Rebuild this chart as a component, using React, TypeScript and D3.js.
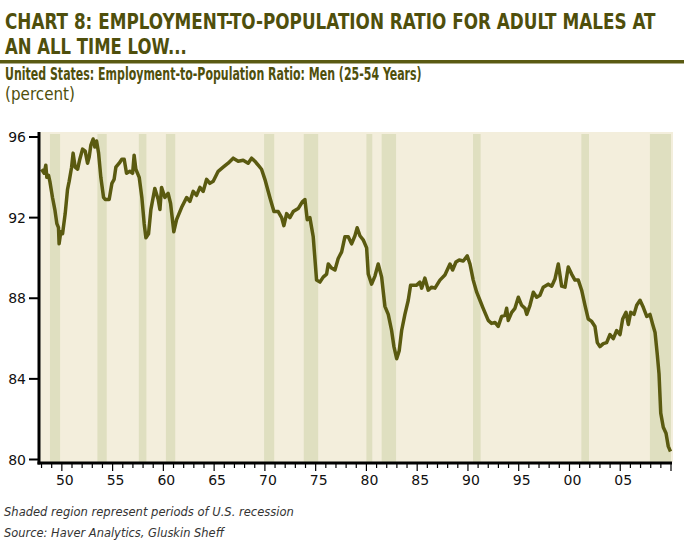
import { useEffect, useRef } from 'react';
import * as d3 from 'd3';

// Employment-to-population ratio, men 25-54 (year, percent)
const ratioSeries: [number, number][] = [
  [1948.0, 94.4], [1948.26, 94.2], [1948.42, 94.6], [1948.52, 94.0], [1948.69, 94.1], [1948.82, 93.8],
  [1949.08, 93.0], [1949.31, 92.4], [1949.51, 91.7], [1949.67, 91.5], [1949.73, 90.7], [1949.9, 91.3],
  [1950.07, 91.2], [1950.33, 92.2], [1950.56, 93.4], [1950.72, 93.8], [1950.96, 94.5], [1951.11, 95.2],
  [1951.31, 94.5], [1951.55, 94.4], [1951.77, 94.9], [1952.04, 95.4], [1952.3, 95.3], [1952.53, 94.7],
  [1952.69, 95.0], [1952.86, 95.6], [1953.08, 95.9], [1953.25, 95.5], [1953.42, 95.8], [1953.62, 95.2],
  [1953.84, 94.0], [1954.11, 93.0], [1954.27, 92.9], [1954.66, 92.9], [1954.93, 93.7], [1955.15, 93.9],
  [1955.32, 94.5], [1955.65, 94.7], [1955.91, 94.9], [1956.14, 94.9], [1956.37, 94.2], [1956.7, 94.3],
  [1956.97, 94.2], [1957.12, 95.1], [1957.29, 94.4], [1957.62, 94.0], [1957.88, 93.0], [1958.11, 91.7],
  [1958.28, 91.0], [1958.54, 91.2], [1958.77, 92.4], [1959.16, 93.45], [1959.49, 92.9], [1959.66, 92.4],
  [1959.82, 93.5], [1960.15, 93.0], [1960.47, 93.2], [1960.71, 92.7], [1961.03, 91.3], [1961.3, 91.9],
  [1961.79, 92.5], [1962.29, 93.0], [1962.61, 92.8], [1962.94, 93.3], [1963.27, 93.1], [1963.6, 93.5],
  [1963.92, 93.3], [1964.26, 93.9], [1964.58, 93.7], [1964.91, 93.8], [1965.4, 94.3], [1965.89, 94.5],
  [1966.38, 94.7], [1966.88, 94.95], [1967.37, 94.8], [1967.86, 94.85], [1968.35, 94.7], [1968.69, 94.95],
  [1969.01, 94.8], [1969.34, 94.6], [1969.67, 94.4], [1970.0, 93.9], [1970.49, 93.0], [1970.89, 92.3],
  [1971.31, 92.3], [1971.65, 92.0], [1971.87, 91.6], [1972.14, 92.2], [1972.46, 92.0], [1972.79, 92.3],
  [1973.28, 92.45], [1973.71, 92.8], [1973.94, 92.9], [1974.17, 91.9], [1974.43, 92.0], [1974.76, 91.05],
  [1975.09, 88.9], [1975.42, 88.8], [1975.74, 89.05], [1976.08, 89.2], [1976.24, 89.7], [1976.57, 89.5],
  [1976.9, 89.4], [1977.22, 89.97], [1977.56, 90.3], [1977.88, 91.05], [1978.21, 91.05], [1978.54, 90.7],
  [1978.87, 91.1], [1979.09, 91.5], [1979.36, 91.1], [1979.68, 90.9], [1980.02, 90.5], [1980.18, 89.2],
  [1980.51, 88.7], [1980.84, 89.1], [1981.16, 89.7], [1981.5, 89.05], [1981.82, 87.6], [1982.15, 87.2],
  [1982.48, 86.4], [1982.71, 85.6], [1982.98, 85.0], [1983.23, 85.4], [1983.47, 86.4], [1983.79, 87.2],
  [1984.12, 87.9], [1984.35, 88.65], [1984.95, 88.65], [1985.27, 88.8], [1985.44, 88.5], [1985.76, 89.0],
  [1986.09, 88.4], [1986.42, 88.55], [1986.75, 88.5], [1987.24, 88.9], [1987.73, 89.15], [1988.23, 89.7],
  [1988.49, 89.4], [1988.82, 89.8], [1989.14, 89.9], [1989.54, 89.85], [1989.93, 90.1], [1990.2, 89.7],
  [1990.52, 88.9], [1990.86, 88.3], [1991.18, 87.9], [1991.5, 87.5], [1992.0, 86.9], [1992.33, 86.75],
  [1992.66, 86.8], [1992.98, 86.6], [1993.32, 87.1], [1993.65, 87.15], [1993.81, 87.5], [1993.97, 86.9],
  [1994.31, 87.3], [1994.63, 87.5], [1994.96, 88.05], [1995.29, 87.65], [1995.62, 87.5], [1995.79, 87.2],
  [1996.11, 87.65], [1996.44, 88.3], [1996.77, 88.05], [1997.09, 88.15], [1997.42, 88.55], [1997.91, 88.7],
  [1998.25, 88.6], [1998.57, 88.95], [1998.9, 89.7], [1999.23, 88.6], [1999.56, 88.55], [1999.88, 89.55],
  [2000.21, 89.2], [2000.54, 88.9], [2000.87, 88.9], [2001.2, 88.4], [2001.53, 87.65], [2001.85, 86.97],
  [2002.19, 86.85], [2002.51, 86.6], [2002.74, 85.8], [2003.0, 85.6], [2003.33, 85.75], [2003.66, 85.8],
  [2003.99, 86.2], [2004.32, 86.0], [2004.65, 86.4], [2004.98, 86.2], [2005.24, 86.97], [2005.57, 87.3],
  [2005.8, 86.7], [2006.03, 87.3], [2006.36, 87.2], [2006.62, 87.65], [2006.95, 87.9], [2007.27, 87.55],
  [2007.61, 87.1], [2007.93, 87.2], [2008.2, 86.7], [2008.43, 86.3], [2008.65, 85.2], [2008.82, 84.25],
  [2008.99, 82.3], [2009.24, 81.6], [2009.51, 81.3], [2009.73, 80.65], [2009.95, 80.4],
];

// U.S. recessions (start, end) as decimal years
const recessionStart = [1948.83, 1953.5, 1957.58, 1960.25, 1969.92, 1973.83, 1980.0, 1981.5, 1990.5, 2001.17, 2007.92];
const recessionEnd = [1949.83, 1954.42, 1958.33, 1961.17, 1970.92, 1975.25, 1980.58, 1982.92, 1991.25, 2001.92, 2010.0];

const yTicks = [80, 84, 88, 92, 96];
const xMajorYears = [1950, 1955, 1960, 1965, 1970, 1975, 1980, 1985, 1990, 1995, 2000, 2005];
const xTickLabels = ['50', '55', '60', '65', '70', '75', '80', '85', '90', '95', '00', '05'];

const titleLines = [
  'CHART 8: EMPLOYMENT-TO-POPULATION RATIO FOR ADULT MALES AT',
  'AN ALL TIME LOW...',
];
const subtitle = 'United States: Employment-to-Population Ratio: Men (25-54 Years)';
const unitLabel = '(percent)';
const footnotes = [
  'Shaded region represent periods of U.S. recession',
  'Source: Haver Analytics, Gluskin Sheff',
];

const OLIVE = '#4f4f0c';
const LINE = '#5a5a10';
const narrow = "'Liberation Sans Narrow', 'DejaVu Sans Condensed', 'Arial Narrow', sans-serif";
const axisFont = "'DejaVu Sans', Verdana, sans-serif";

export default function App() {
  const svgRef = useRef<SVGSVGElement>(null);

  useEffect(() => {
    if (!svgRef.current) return;
    const width = 684;
    const height = 547;

    const left = 39;
    const right = 671;
    const plotTop = 132;
    const plotBottom = 462;

    const svg = d3.select(svgRef.current);
    svg.selectAll('*').remove();
    svg.attr('width', width).attr('height', height).attr('viewBox', `0 0 ${width} ${height}`);

    svg.append('rect').attr('width', width).attr('height', height).attr('fill', '#fff');

    // squeeze a text horizontally to a target width (the reference uses a condensed face)
    const fitText = (
      tx: number, ty: number, txt: string, size: number, target: number,
      weight = 'normal', style = 'normal', fill = OLIVE,
    ) => {
      const t = svg.append('text')
        .attr('font-family', narrow)
        .attr('font-weight', weight)
        .attr('font-style', style)
        .attr('font-size', size)
        .attr('fill', fill)
        .text(txt);
      const w = (t.node() as SVGTextElement).getComputedTextLength() || target;
      t.attr('transform', `translate(${tx},${ty}) scale(${target / w},1)`);
    };

    // === titles ===
    const titleWidths = [651, 182];
    titleLines.forEach((t, i) => fitText(5, 29 + i * 25, t, 22, titleWidths[i], 'bold'));

    svg.append('rect')
      .attr('x', 0).attr('y', 60)
      .attr('width', width).attr('height', 3.5)
      .attr('fill', '#5a5a12');

    fitText(5, 80, subtitle, 17, 417, 'bold');
    fitText(5, 100, unitLabel, 17, 70);

    // === scales ===
    const x = d3.scaleLinear().domain([1947.75, 2010]).range([left, right]);
    const y = d3.scaleLinear().domain([80, 96]).range([459.5, 137]);

    // plot background
    svg.append('rect')
      .attr('x', left).attr('y', plotTop)
      .attr('width', right + 2 - left).attr('height', plotBottom - plotTop)
      .attr('fill', '#f3eedc');

    // recession bands
    svg.selectAll('.rec')
      .data(recessionStart.map((s, i) => ({ s, e: recessionEnd[i] })))
      .enter()
      .append('rect')
      .attr('x', (d) => x(d.s))
      .attr('y', plotTop + 2)
      .attr('width', (d) => x(d.e) - x(d.s))
      .attr('height', plotBottom - plotTop - 2)
      .attr('fill', '#dfdfc0');

    // === line ===
    const line = d3.line<[number, number]>()
      .x((d) => x(d[0]))
      .y((d) => y(d[1]));

    svg.append('path')
      .datum(ratioSeries)
      .attr('d', line)
      .attr('fill', 'none')
      .attr('stroke', LINE)
      .attr('stroke-width', 3.5)
      .attr('stroke-linejoin', 'round');

    // === y axis ===
    svg.append('line')
      .attr('x1', left).attr('x2', left)
      .attr('y1', plotTop).attr('y2', plotBottom + 2.5)
      .attr('stroke', '#000').attr('stroke-width', 3);

    yTicks.forEach((v) => {
      svg.append('line')
        .attr('x1', 29).attr('x2', left)
        .attr('y1', y(v)).attr('y2', y(v))
        .attr('stroke', '#000').attr('stroke-width', 2);
      svg.append('text')
        .attr('x', 26).attr('y', y(v) + 5)
        .attr('text-anchor', 'end')
        .attr('font-family', axisFont)
        .attr('font-size', 14)
        .attr('fill', '#111')
        .text(v);
    });

    // === x axis ===
    svg.append('line')
      .attr('x1', left - 1.5).attr('x2', right + 1)
      .attr('y1', plotBottom + 1).attr('y2', plotBottom + 1)
      .attr('stroke', '#000').attr('stroke-width', 3);

    d3.range(1948, 2011).forEach((yr) => {
      const major = yr % 5 === 0;
      svg.append('line')
        .attr('x1', x(yr)).attr('x2', x(yr))
        .attr('y1', plotBottom + 1).attr('y2', plotBottom + (major ? 9 : 6))
        .attr('stroke', '#000').attr('stroke-width', 1.2);
    });

    xMajorYears.forEach((yr, i) => {
      svg.append('text')
        .attr('x', x(yr) + 3).attr('y', 485)
        .attr('text-anchor', 'middle')
        .attr('font-family', axisFont)
        .attr('font-size', 14)
        .attr('fill', '#111')
        .text(xTickLabels[i]);
    });

    // === footnotes ===
    fitText(4, 516, footnotes[0], 13, 290, 'normal', 'italic', '#333');
    fitText(4, 537, footnotes[1], 13, 220, 'normal', 'italic', '#333');
  }, []);

  return (
    <div style={{ position: 'absolute', left: 0, top: 0 }}>
      <svg ref={svgRef} style={{ display: 'block' }} />
    </div>
  );
}
